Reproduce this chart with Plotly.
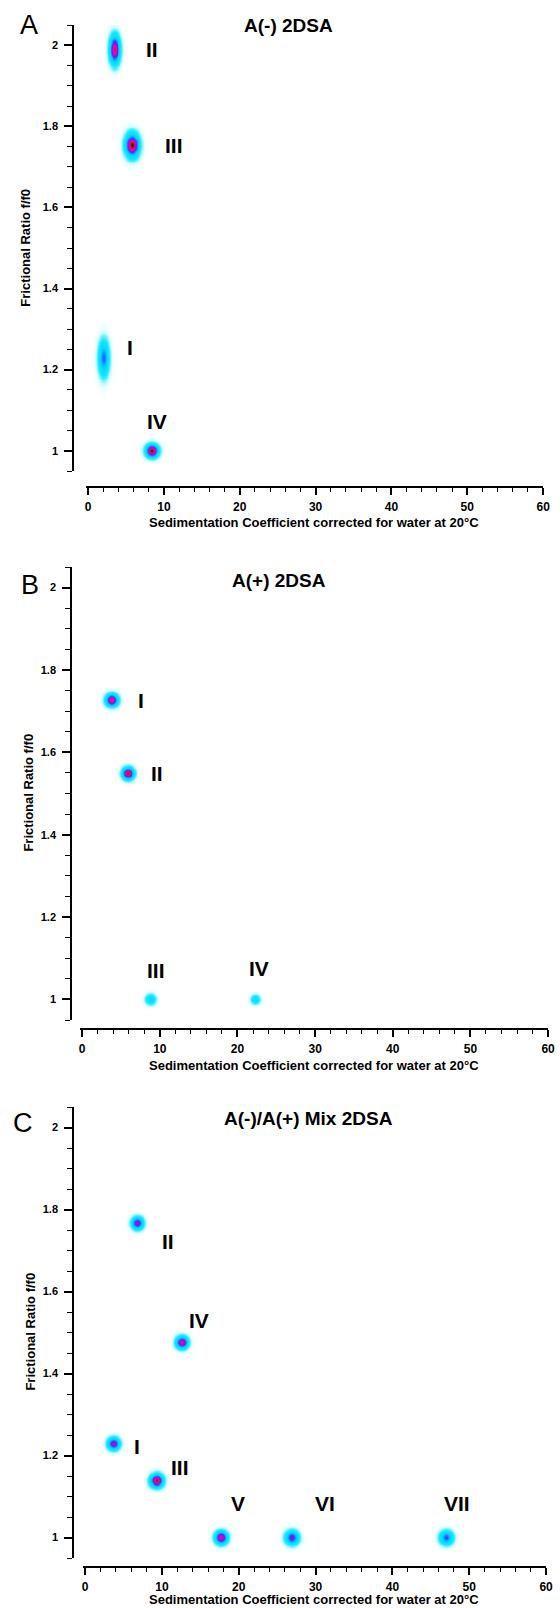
import numpy as np
import plotly.graph_objects as go

W, H = 560, 1608

# ---------------- data ----------------
panel_letters = ["A", "B", "C"]
panel_titles = ["A(-) 2DSA", "A(+) 2DSA", "A(-)/A(+) Mix 2DSA"]
x_title = "Sedimentation Coefficient corrected for water at 20°C"
y_title = "Frictional Ratio f/f0"
x_tick_vals = [0, 10, 20, 30, 40, 50, 60]
y_tick_vals = [1.0, 1.2, 1.4, 1.6, 1.8, 2.0]

# Panel A: A(-) 2DSA
a_labels = ["I", "II", "III", "IV"]
a_s = [2.05, 3.5, 5.8, 8.4]
a_f = [1.229, 1.99, 1.754, 1.0]
a_conc = [0.52, 0.90, 1.00, 1.00]
a_s_spread = [0.42, 0.41, 0.54, 0.49]
a_f_spread = [0.026, 0.021, 0.017, 0.0094]

# Panel B: A(+) 2DSA
b_labels = ["I", "II", "III", "IV"]
b_s = [3.8, 5.9, 8.8, 22.3]
b_f = [1.727, 1.549, 1.0, 1.0]
b_conc = [0.93, 0.98, 0.30, 0.25]
b_s_spread = [0.46, 0.44, 0.40, 0.36]
b_f_spread = [0.0088, 0.0085, 0.0076, 0.0068]

# Panel C: A(-)/A(+) Mix 2DSA
c_labels = ["I", "II", "III", "IV", "V", "VI", "VII"]
c_s = [3.7, 6.8, 9.3, 12.6, 17.7, 26.9, 47.0]
c_f = [1.229, 1.767, 1.139, 1.476, 1.0, 1.0, 1.0]
c_conc = [0.76, 0.76, 0.98, 0.86, 0.84, 0.66, 0.55]
c_s_spread = [0.47, 0.45, 0.50, 0.47, 0.49, 0.52, 0.52]
c_f_spread = [0.0090, 0.0087, 0.0095, 0.0090, 0.0093, 0.0100, 0.0100]

# ---------------- style ----------------
# label offsets in pixels (dx right, dy up)
a_lab_off = [(26, 10), (37, 0), (42, 0), (5, 29)]
b_lab_off = [(29, 0), (29, 0), (5, 29), (4, 31)]
c_lab_off = [(23, -3), (31, -18), (23, 13), (17, 22), (17, 34), (33, 34), (11, 34)]

# pixel layout per panel: x-domain, y-domain (top,bottom), y-axis x-pos, x-axis y-pos
panel_px = [
    dict(xd=(86, 550), yd=(25, 471), ypos=73, xpos=487, letter=(28, 25), title=(292, 25), xt=522, yt=(25, 248)),
    dict(xd=(80, 555), yd=(567, 1020), ypos=71, xpos=1029, letter=(29, 585), title=(282, 580), xt=1065, yt=(27, 793)),
    dict(xd=(83, 553), yd=(1107, 1558), ypos=73, xpos=1567, letter=(22, 1123), title=(312, 1118), xt=1599, yt=(29, 1332)),
]

colorscale = [
    [0.00, "#ffffff"],
    [0.02, "#d4fcff"],
    [0.06, "#5cf0ff"],
    [0.12, "#10e8ff"],
    [0.30, "#00dcff"],
    [0.42, "#12acff"],
    [0.52, "#2855ff"],
    [0.62, "#6a14ff"],
    [0.72, "#c800e6"],
    [0.82, "#ff0098"],
    [0.90, "#ff0040"],
    [0.96, "#7a0010"],
    [1.00, "#000000"],
]

FONT = "Liberation Sans, Arial, Helvetica, sans-serif"

fig = go.Figure()

panels = [
    (a_labels, a_s, a_f, a_conc, a_s_spread, a_f_spread, a_lab_off),
    (b_labels, b_s, b_f, b_conc, b_s_spread, b_f_spread, b_lab_off),
    (c_labels, c_s, c_f, c_conc, c_s_spread, c_f_spread, c_lab_off),
]

annotations = []
layout_axes = {}

for i, (labels, ss, ff, conc, sss, fss, offs) in enumerate(panels):
    n = "" if i == 0 else str(i + 1)
    xa, ya = "x" + n, "y" + n
    p = panel_px[i]
    for lab, s, f, c, sd, fd, off in zip(labels, ss, ff, conc, sss, fss, offs):
        xs = np.linspace(s - 4 * sd, s + 4 * sd, 61)
        ys = np.linspace(f - 4 * fd, f + 4 * fd, 61)
        X, Y = np.meshgrid(xs, ys)
        Z = c * np.exp(-0.5 * ((X - s) / sd) ** 2 - 0.5 * ((Y - f) / fd) ** 2)
        fig.add_trace(go.Heatmap(
            x=xs, y=ys, z=Z, zmin=0, zmax=1, colorscale=colorscale,
            showscale=False, zsmooth="best", hoverinfo="skip",
            xaxis=xa, yaxis=ya,
        ))
        annotations.append(dict(
            x=s, y=f, xref=xa, yref=ya, text=lab, showarrow=False,
            xshift=off[0], yshift=off[1], xanchor="center", yanchor="middle",
            font=dict(family=FONT, size=21, color="black", weight="bold"),
        ))

    axis_common = dict(
        showline=True, linecolor="black", linewidth=1.5, showgrid=False,
        zeroline=False, ticks="outside", tickcolor="black", tickwidth=1.5,
        anchor="free", fixedrange=True,
    )
    layout_axes["xaxis" + n] = dict(
        axis_common,
        domain=[p["xd"][0] / W, p["xd"][1] / W],
        range=[-0.3, 60], position=1 - p["xpos"] / H,
        tickvals=x_tick_vals, ticklen=7,
        minor=dict(ticks="outside", ticklen=4, dtick=2, tick0=0, tickcolor="black", tickwidth=1.2),
        tickfont=dict(family=FONT, size=12, color="black", weight="bold"),
        ticklabelstandoff=2,
    )
    layout_axes["yaxis" + n] = dict(
        axis_common,
        domain=[1 - p["yd"][1] / H, 1 - p["yd"][0] / H],
        range=[0.95, 2.05], position=p["ypos"] / W,
        tickvals=y_tick_vals, ticktext=[("%g" % v) for v in y_tick_vals], ticklen=8,
        minor=dict(ticks="outside", ticklen=5, dtick=0.05, tick0=0.95, tickcolor="black", tickwidth=1.2),
        tickfont=dict(family=FONT, size=11, color="black", weight="bold"),
        ticklabelstandoff=4,
    )

    # panel letter
    annotations.append(dict(
        x=p["letter"][0] / W, y=1 - p["letter"][1] / H, xref="paper", yref="paper",
        text=panel_letters[i], showarrow=False, xanchor="center", yanchor="middle",
        font=dict(family=FONT, size=27, color="black"),
    ))
    # title
    annotations.append(dict(
        x=p["title"][0] / W, y=1 - p["title"][1] / H, xref="paper", yref="paper",
        text=panel_titles[i], showarrow=False, xanchor="center", yanchor="middle",
        font=dict(family=FONT, size=19, color="black", weight="bold"),
    ))
    # x title
    annotations.append(dict(
        x=(p["xd"][0] + p["xd"][1]) / 2 / W, y=1 - p["xt"] / H, xref="paper", yref="paper",
        text=x_title, showarrow=False, xanchor="center", yanchor="middle",
        font=dict(family=FONT, size=13, color="black", weight="bold"),
    ))
    # y title
    annotations.append(dict(
        x=p["yt"][0] / W, y=1 - p["yt"][1] / H, xref="paper", yref="paper",
        text=y_title, showarrow=False, xanchor="center", yanchor="middle", textangle=-90,
        font=dict(family=FONT, size=13, color="black", weight="bold"),
    ))

fig.update_layout(
    width=W, height=H, autosize=False,
    margin=dict(l=0, r=0, t=0, b=0, pad=0),
    paper_bgcolor="white", plot_bgcolor="white",
    showlegend=False, annotations=annotations,
    **layout_axes,
)

# remove the browser's default 8px body margin so the figure sits at the page origin
fig.write_html(
    "out.html",
    config={"displayModeBar": False},
    post_script="document.body.style.margin='0px';document.body.style.overflow='hidden';",
)
